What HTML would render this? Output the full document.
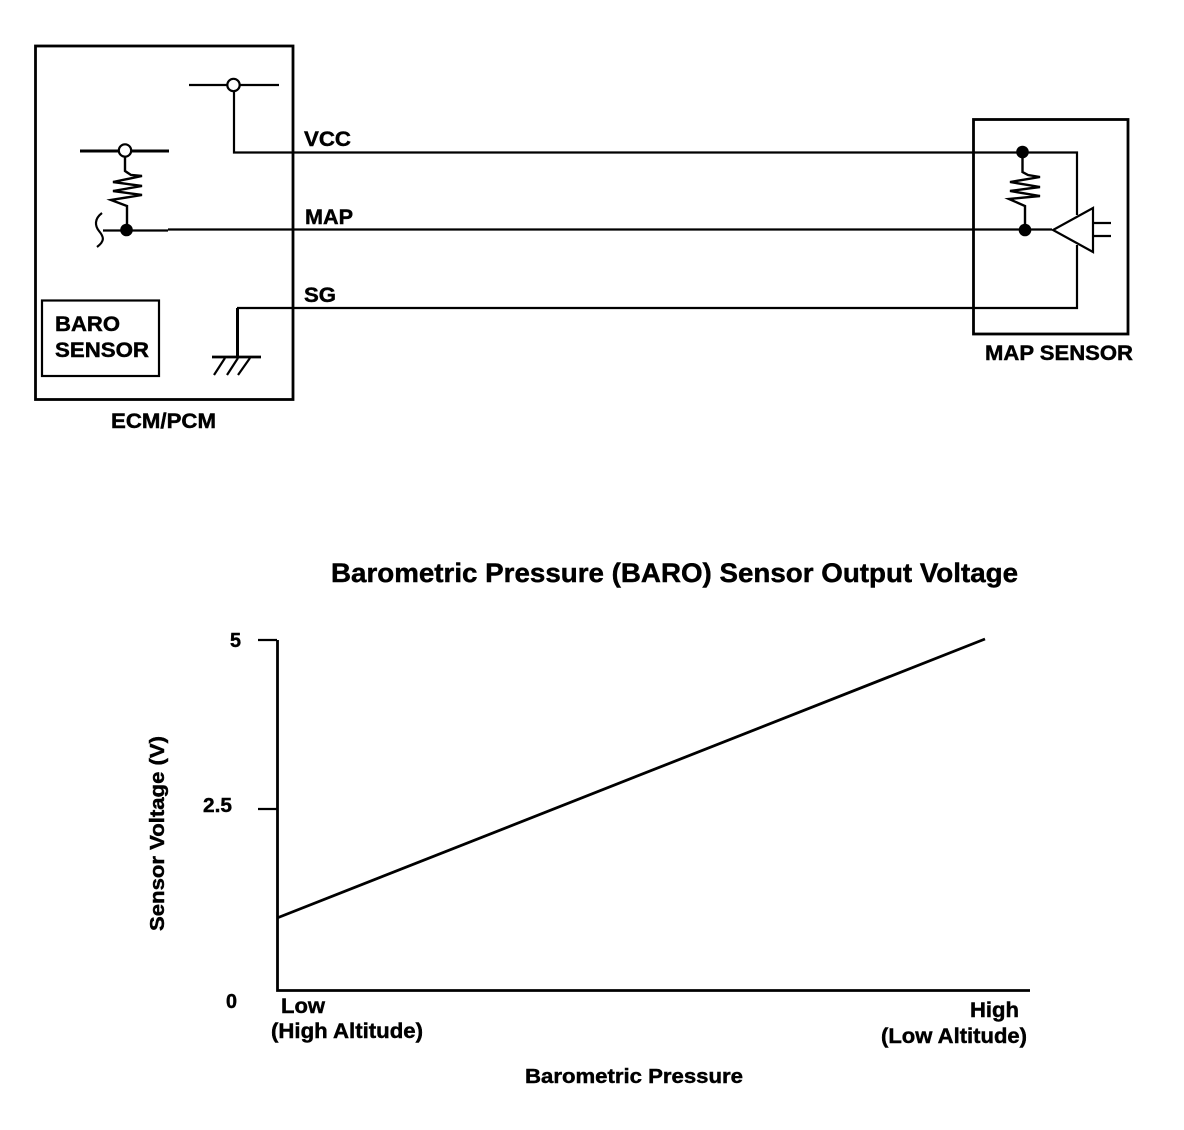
<!DOCTYPE html>
<html>
<head>
<meta charset="utf-8">
<style>
html,body{margin:0;padding:0;background:#fff;}
svg{display:block;}
text{font-family:"Liberation Sans",sans-serif;font-weight:bold;fill:#000;stroke:#000;stroke-width:.45px;}
</style>
</head>
<body>
<svg width="1184" height="1130" viewBox="0 0 1184 1130" xmlns="http://www.w3.org/2000/svg">
<rect width="1184" height="1130" fill="#fff"/>
<g fill="none" stroke="#000" stroke-width="2.2">
  <rect x="35.5" y="46" width="257.5" height="353.5" stroke-width="2.8"/>
  <rect x="42" y="300.5" width="117" height="75.5"/>
  <rect x="973.5" y="119.500" width="154.500" height="214.500" stroke-width="2.8"/>
  <!-- top switch -->
  <path d="M189 85H279"/>
  <path d="M234 91V152.500H1077V215M1077 245V308H237"/>
  <!-- left switch -->
  <path d="M80 151H169" stroke-width="3"/>
  <path d="M125 157V171L131 175L142 176L113 182L142 186L113 191L142 195L111 200L127 206V230" stroke-width="2.400"/>
  <path d="M103 230.500H168M168 229.500H1052"/>
  <path d="M102 213C94 219 95 226 99 231C104 237 105 241 97 247"/>
  <!-- ground -->
  <path d="M237.500 308V357" stroke-width="3"/>
  <path d="M212 357H261" stroke-width="2.800"/>
  <path d="M214 375L225 358M227 375L238 358M238 375L250 358"/>
  <!-- map sensor -->
  <path d="M1022.500 156V172L1028 175L1040 177L1010 182L1040 187L1010 191L1040 196L1009 199L1025 206V230" stroke-width="2.400"/>
  <path d="M1093 208V252L1053 230Z"/>
  <path d="M1093 223H1111M1093 236H1111"/>
  <!-- chart -->
  <path d="M258 640H277M258 809H277"/>
  <path d="M277.500 640V990.500H1030" stroke-width="2.800"/>
  <path d="M277 918L985 639" stroke-width="2.800"/>
</g>
<circle cx="233.500" cy="85" r="6.200" fill="#fff" stroke="#000" stroke-width="2.200"/>
<circle cx="125" cy="150.500" r="6.200" fill="#fff" stroke="#000" stroke-width="2.200"/>
<circle cx="126.500" cy="230" r="6.300" fill="#000"/>
<circle cx="1022.500" cy="152" r="6.300" fill="#000"/>
<circle cx="1025" cy="230" r="6.300" fill="#000"/>
<text x="304" y="146" font-size="21" textLength="47" lengthAdjust="spacingAndGlyphs">VCC</text>
<text x="305" y="224" font-size="21" textLength="48" lengthAdjust="spacingAndGlyphs">MAP</text>
<text x="304" y="302" font-size="21" textLength="32" lengthAdjust="spacingAndGlyphs">SG</text>
<text x="55" y="331" font-size="21" textLength="65" lengthAdjust="spacingAndGlyphs">BARO</text>
<text x="55" y="357" font-size="21" textLength="94" lengthAdjust="spacingAndGlyphs">SENSOR</text>
<text x="111" y="428" font-size="21" textLength="105" lengthAdjust="spacingAndGlyphs">ECM/PCM</text>
<text x="985" y="360" font-size="21" textLength="148" lengthAdjust="spacingAndGlyphs">MAP SENSOR</text>
<text x="331" y="582" font-size="27" textLength="687" lengthAdjust="spacingAndGlyphs">Barometric Pressure (BARO) Sensor Output Voltage</text>
<text x="230" y="647" font-size="20" textLength="11" lengthAdjust="spacingAndGlyphs">5</text>
<text x="203" y="812" font-size="20" textLength="29" lengthAdjust="spacingAndGlyphs">2.5</text>
<text x="226" y="1008" font-size="20" textLength="11" lengthAdjust="spacingAndGlyphs">0</text>
<text transform="translate(164 931) rotate(-90)" font-size="20" textLength="195" lengthAdjust="spacingAndGlyphs">Sensor Voltage (V)</text>
<text x="281" y="1013" font-size="21" textLength="44" lengthAdjust="spacingAndGlyphs">Low</text>
<text x="271" y="1038" font-size="21" textLength="152" lengthAdjust="spacingAndGlyphs">(High Altitude)</text>
<text x="970" y="1017" font-size="21" textLength="49" lengthAdjust="spacingAndGlyphs">High</text>
<text x="881" y="1043" font-size="21" textLength="146" lengthAdjust="spacingAndGlyphs">(Low Altitude)</text>
<text x="525" y="1083" font-size="20" textLength="218" lengthAdjust="spacingAndGlyphs">Barometric Pressure</text>
</svg>
</body>
</html>
